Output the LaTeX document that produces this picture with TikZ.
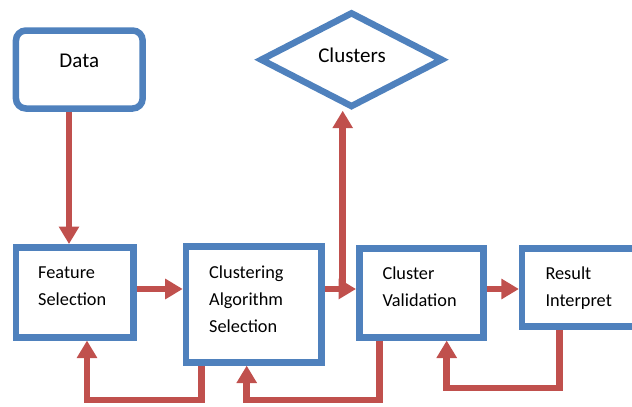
\documentclass[tikz,border=0pt]{standalone}
\usepackage{fontspec}
\setmainfont{Carlito}
\usetikzlibrary{arrows.meta,shapes.geometric}
\definecolor{boxblue}{HTML}{4F81BD}
\definecolor{arrred}{HTML}{C0504D}
\tikzset{
  box/.style={draw=boxblue,line width=6.5pt,rectangle,inner sep=0pt},
  lbl/.style={inner sep=0pt,align=left,font=\fontsize{18.3}{27}\selectfont},
  biglbl/.style={inner sep=0pt,font=\fontsize{21}{25}\selectfont},
  arr/.style={draw=arrred,line width=6.5pt,line join=miter,line cap=butt,
    -{Triangle[length=17.5pt,width=19.5pt]}},
}
\begin{document}
\begin{tikzpicture}[x=1pt,y=-1pt]
\useasboundingbox (0,0) rectangle (632,407);
\clip (0,0) rectangle (632,407);
% shapes
\node[box,rounded corners=10pt,minimum width=126.7pt,minimum height=78pt] (data) at (79.3,69.5) {};
\node[draw=boxblue,line width=6.5pt,diamond,inner sep=0pt,minimum width=183pt,minimum height=95.5pt] (clusters) at (351.5,59.7) {};
\node[box,minimum width=117.3pt,minimum height=90pt] (fs) at (74.7,292.3) {};
\node[box,minimum width=135.7pt,minimum height=115.7pt] (cas) at (253.8,304.5) {};
\node[box,minimum width=124pt,minimum height=89pt] (cv) at (421.3,292.8) {};
\node[box,minimum width=127.7pt,minimum height=78.3pt] (ri) at (586,287.5) {};
% texts (base anchor = baseline of the last line)
\node[biglbl,anchor=base] (tdata) at (79.3,67.7) {Data};
\node[biglbl,anchor=base] (tclusters) at (352,62.5) {Clusters};
\node[lbl,anchor=base west] (tfs) at (38,305.3) {Feature\\Selection};
\node[lbl,anchor=base west] (tcas) at (209,332.5) {Clustering\\Algorithm\\Selection};
\node[lbl,anchor=base west] (tcv) at (382.3,306.5) {Cluster\\Validation};
\node[lbl,anchor=base west] (tri) at (545.3,306) {Result\\Interpret};
% connectors
\coordinate (branch) at (342.7,289);
\draw[arr] (69,0 |- data.south) -- (69,0 |- fs.north);
\draw[arr] (fs.east |- 0,289) -- (cas.west |- 0,289);
\draw[arr] (cas.east |- 0,289) -- (cv.west |- 0,289);
\draw[arr] (branch) ++(0,3.25) -- (branch |- clusters.south);
\draw[arr] (cv.east |- 0,289) -- (ri.west |- 0,289);
\draw[arr] (201.7,0 |- cas.south) -- (201.7,400) -- (87,400) -- (87,0 |- fs.south);
\draw[arr] (379.5,0 |- cv.south) -- (379.5,400) -- (246.7,400) -- (246.7,0 |- cas.south);
\draw[arr] (559.3,0 |- ri.south) -- (559.3,388) -- (446.7,388) -- (446.7,0 |- cv.south);
\end{tikzpicture}
\end{document}
